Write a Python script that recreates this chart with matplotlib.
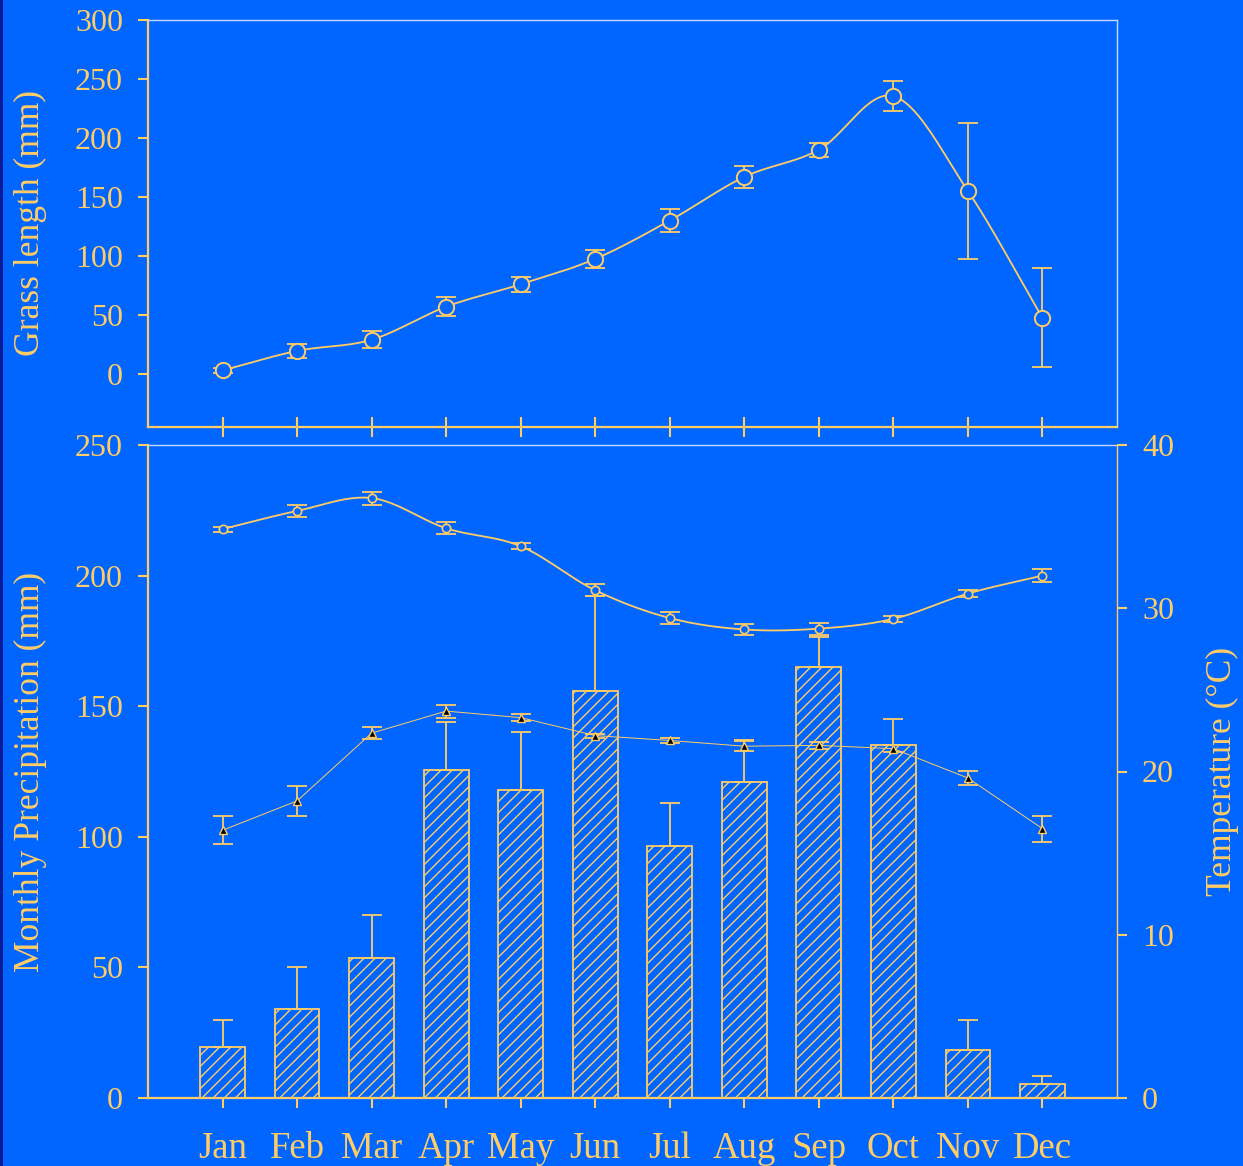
import numpy as np
import matplotlib
matplotlib.use("Agg")
import matplotlib.pyplot as plt
from matplotlib.patches import Rectangle

# ---------------- data ----------------
months = ["Jan", "Feb", "Mar", "Apr", "May", "Jun", "Jul", "Aug", "Sep", "Oct", "Nov", "Dec"]

grass_mean = [3, 19.5, 29, 57, 76, 97.5, 130, 167, 190, 235.5, 155, 47.5]
grass_err = [2, 6, 7, 8, 6.5, 7.5, 10, 9, 6, 12.5, 58, 42]

precip_mean = [19.5, 34, 53.6, 125.6, 118, 156, 96.5, 121, 165, 135, 18.4, 5.4]
precip_err = [10.5, 16, 16.4, 18.4, 22, 36, 16.5, 16, 11.5, 10, 11.6, 3]

tmax_mean = [34.85, 35.96, 36.75, 34.9, 33.8, 31.1, 29.4, 28.7, 28.75, 29.35, 30.9, 32.0]
tmax_err = [0.15, 0.35, 0.4, 0.37, 0.2, 0.37, 0.37, 0.35, 0.37, 0.2, 0.2, 0.4]

tmin_mean = [16.4, 18.2, 22.35, 23.7, 23.3, 22.2, 21.9, 21.55, 21.6, 21.4, 19.6, 16.5]
tmin_err = [0.85, 0.9, 0.35, 0.4, 0.2, 0.12, 0.18, 0.3, 0.2, 0.22, 0.45, 0.8]

grass_ticks = [0, 50, 100, 150, 200, 250, 300]
precip_ticks = [0, 50, 100, 150, 200, 250]
temp_ticks = [0, 10, 20, 30, 40]

# ---------------- style ----------------
BG = "#0066FF"
FG = "#FFCC66"
LIGHT = "#C8D8FF"
SERIF = ["Liberation Serif", "DejaVu Serif"]
plt.rcParams["font.family"] = SERIF
plt.rcParams["hatch.linewidth"] = 1.0
plt.rcParams["hatch.color"] = FG


def smooth(x, y, n=24):
    """Catmull-Rom curve through the given points (for drawing only)."""
    x = np.asarray(x, float)
    y = np.asarray(y, float)
    px = np.concatenate([[2 * x[0] - x[1]], x, [2 * x[-1] - x[-2]]])
    py = np.concatenate([[2 * y[0] - y[1]], y, [2 * y[-1] - y[-2]]])
    xs, ys = [], []
    t = np.linspace(0, 1, n, endpoint=False)
    for i in range(1, len(px) - 2):
        for P, out in ((px, xs), (py, ys)):
            p0, p1, p2, p3 = P[i - 1], P[i], P[i + 1], P[i + 2]
            out.extend(0.5 * ((2 * p1) + (-p0 + p2) * t
                              + (2 * p0 - 5 * p1 + 4 * p2 - p3) * t ** 2
                              + (-p0 + 3 * p1 - 3 * p2 + p3) * t ** 3))
    xs.append(x[-1])
    ys.append(y[-1])
    return np.array(xs), np.array(ys)


W, H = 1243, 1166
fig = plt.figure(figsize=(W / 100, H / 100), dpi=100, facecolor=BG)
fig.patches.append(Rectangle((0, 0), 3 / W, 1, transform=fig.transFigure,
                             facecolor="#0A1A99", edgecolor="none", zorder=-5))

L, R = 148 / W, 1117 / W
ax1 = fig.add_axes([L, 1 - 427 / H, R - L, (427 - 20) / H])
ax2 = fig.add_axes([L, 1 - 1098 / H, R - L, (1098 - 445) / H])
ax3 = ax2.twinx()

x = np.arange(len(months))

for ax in (ax1, ax2, ax3):
    ax.set_facecolor("none")
    ax.set_xlim(-1, 12)
    ax.tick_params(colors=FG, labelcolor=FG, labelsize=23, width=1.5, length=7, pad=11)

ax2.set_facecolor(BG)
ax1.set_facecolor(BG)

# ---------------- top: grass ----------------
sx, sy = smooth(x, grass_mean)
ax1.plot(sx, sy, color=FG, lw=1.3, zorder=2)
ax1.errorbar(x, grass_mean, yerr=grass_err, fmt="none", ecolor=FG, elinewidth=1.3,
             capsize=7.5, capthick=1.3, zorder=3)
ax1.plot(x, grass_mean, "o", ms=11, mfc=BG, mec=FG, mew=1.4, zorder=4)
ax1.set_ylim(-45, 300)
ax1.set_yticks(grass_ticks)
ax1.set_xticks(x)
ax1.set_xticklabels([])
ax1.tick_params(axis="x", direction="inout", length=14.4)

for s in ("left", "bottom"):
    ax1.spines[s].set_color(FG)
    ax1.spines[s].set_linewidth(1.6)
for s in ("top", "right"):
    ax1.spines[s].set_color(LIGHT)
    ax1.spines[s].set_linewidth(1.0)

# ---------------- bottom: precipitation ----------------
ax2.bar(x, precip_mean, width=0.6, facecolor="none", edgecolor=FG, linewidth=1.3,
        hatch="///", zorder=2)
ax2.errorbar(x, precip_mean, yerr=[np.zeros(len(x)), precip_err], fmt="none", ecolor=FG,
             elinewidth=1.3, capsize=7.5, capthick=1.3, zorder=3)
ax2.set_ylim(0, 250)
ax2.set_yticks(precip_ticks)
ax2.set_xticks(x)
ax2.set_xticklabels(months, fontsize=26.5)
ax2.tick_params(axis="x", pad=17)

for s in ("left", "bottom"):
    ax2.spines[s].set_color(FG)
    ax2.spines[s].set_linewidth(1.6)
ax2.spines["top"].set_color(LIGHT)
ax2.spines["top"].set_linewidth(1.0)
ax2.spines["right"].set_visible(False)

# ---------------- temperature ----------------
sx, sy = smooth(x, tmax_mean)
ax3.plot(sx, sy, color=FG, lw=1.3, zorder=2)
ax3.errorbar(x, tmax_mean, yerr=tmax_err, fmt="none", ecolor=FG, elinewidth=1.3,
             capsize=7.5, capthick=1.3, zorder=3)
ax3.plot(x, tmax_mean, "o", ms=6, mfc=BG, mec=FG, mew=1.2, zorder=4)

ax3.plot(x, tmin_mean, color=FG, lw=0.7, zorder=2)
ax3.errorbar(x, tmin_mean, yerr=tmin_err, fmt="none", ecolor=FG, elinewidth=1.3,
             capsize=7.5, capthick=1.3, zorder=3)
ax3.plot(x, tmin_mean, "^", ms=6, mfc="black", mec=FG, mew=1.0, zorder=4)

ax3.set_ylim(0, 40)
ax3.set_yticks(temp_ticks)
for s in ("left", "top", "bottom"):
    ax3.spines[s].set_visible(False)
ax3.spines["right"].set_color(FG)
ax3.spines["right"].set_linewidth(1.0)

# ---------------- axis labels ----------------
fig.text(30 / W, 1 - 223.5 / H, "Grass length (mm)", rotation=90, ha="center", va="center",
         color=FG, fontsize=25.6)
fig.text(30 / W, 1 - 771.5 / H, "Monthly Precipitation (mm)", rotation=90, ha="center",
         va="center", color=FG, fontsize=25.6)
fig.text(1222 / W, 1 - 771.5 / H, "Temperature (°C)", rotation=90, ha="center", va="center",
         color=FG, fontsize=25.6)

fig.savefig("out.png", dpi=100, facecolor=BG)
